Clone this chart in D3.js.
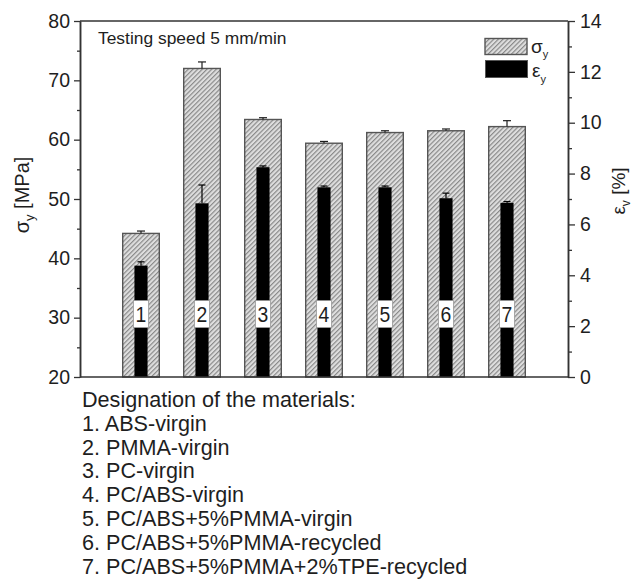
<!DOCTYPE html>
<html>
<head>
<meta charset="utf-8">
<script src="https://cdn.jsdelivr.net/npm/d3@7"></script>
<style>
  html, body { margin: 0; padding: 0; background: #fff; }
  svg { display: block; font-family: "Liberation Sans", Arial, sans-serif; }
</style>
</head>
<body>
<svg id="chart" width="633" height="582"></svg>
<script>
// ---- data ----
const categories = [1, 2, 3, 4, 5, 6, 7];
const sigmaY = [44.2, 72.0, 63.4, 59.4, 61.2, 61.5, 62.2];        // MPa (left axis)
const sigmaErr = [0.4, 1.1, 0.3, 0.3, 0.3, 0.3, 1.0];
const epsY = [4.38, 6.83, 8.25, 7.46, 7.46, 7.03, 6.85];            // % (right axis)
const epsErr = [0.15, 0.72, 0.05, 0.05, 0.05, 0.2, 0.05];
const leftTicks = [20, 30, 40, 50, 60, 70, 80];
const leftMinor = [25, 35, 45, 55, 65, 75];
const rightTicks = [0, 2, 4, 6, 8, 10, 12, 14];
const rightMinor = [1, 3, 5, 7, 9, 11, 13];
const heading = "Designation of the materials:";
const materials = [
  "1. ABS-virgin",
  "2. PMMA-virgin",
  "3. PC-virgin",
  "4. PC/ABS-virgin",
  "5. PC/ABS+5%PMMA-virgin",
  "6. PC/ABS+5%PMMA-recycled",
  "7. PC/ABS+5%PMMA+2%TPE-recycled"
];
const annotation = "Testing speed 5 mm/min";

// ---- layout ----
const L = 80, R = 568, T = 21, B = 377;
const ink = "#1e1e1e", axisCol = "#333";
const svg = d3.select("#chart");

const x = d3.scaleLinear().domain([0, 8]).range([L, R]);
const yL = d3.scaleLinear().domain([20, 80]).range([B, T]);
const yR = d3.scaleLinear().domain([0, 14]).range([B, T]);

// hatch pattern
const defs = svg.append("defs");
const pat = defs.append("pattern")
  .attr("id", "hatch").attr("patternUnits", "userSpaceOnUse")
  .attr("width", 3.3).attr("height", 3.3)
  .attr("patternTransform", "rotate(45)");
pat.append("rect").attr("width", 3.3).attr("height", 3.3).attr("fill", "#dedede");
pat.append("line").attr("x1", 0.6).attr("y1", 0).attr("x2", 0.6).attr("y2", 3.3)
  .attr("stroke", "#848484").attr("stroke-width", 1.1);

const bw = x(0.6) - x(0);
const bw2 = x(0.215) - x(0);

// hatched bars (sigma)
svg.append("g").selectAll("rect").data(categories).join("rect")
  .attr("x", (d) => x(d) - bw / 2)
  .attr("y", (d, i) => yL(sigmaY[i]))
  .attr("width", bw)
  .attr("height", (d, i) => B - yL(sigmaY[i]))
  .attr("fill", "url(#hatch)")
  .attr("stroke", "#555").attr("stroke-width", 1.4);

// sigma error bars
const eg1 = svg.append("g").attr("stroke", ink).attr("stroke-width", 1.2);
categories.forEach((d, i) => {
  const cx = x(d);
  eg1.append("line").attr("x1", cx).attr("x2", cx)
    .attr("y1", yL(sigmaY[i])).attr("y2", yL(sigmaY[i] + sigmaErr[i]));
  eg1.append("line").attr("x1", cx - 4).attr("x2", cx + 4)
    .attr("y1", yL(sigmaY[i] + sigmaErr[i])).attr("y2", yL(sigmaY[i] + sigmaErr[i]));
});

// black bars (epsilon)
svg.append("g").selectAll("rect").data(categories).join("rect")
  .attr("x", (d) => x(d) - bw2 / 2)
  .attr("y", (d, i) => yR(epsY[i]))
  .attr("width", bw2)
  .attr("height", (d, i) => B - yR(epsY[i]))
  .attr("fill", "#000");

const eg2 = svg.append("g").attr("stroke", "#000").attr("stroke-width", 1.2);
categories.forEach((d, i) => {
  const cx = x(d);
  eg2.append("line").attr("x1", cx).attr("x2", cx)
    .attr("y1", yR(epsY[i])).attr("y2", yR(epsY[i] + epsErr[i]));
  eg2.append("line").attr("x1", cx - 3.5).attr("x2", cx + 3.5)
    .attr("y1", yR(epsY[i] + epsErr[i])).attr("y2", yR(epsY[i] + epsErr[i]));
});

// number labels in white boxes
const labelVal = 30.6;
const lg = svg.append("g");
categories.forEach((d) => {
  const cx = x(d), cy = yL(labelVal);
  lg.append("rect").attr("x", cx - 7.5).attr("y", cy - 13.5).attr("width", 15).attr("height", 27)
    .attr("fill", "#fff").attr("stroke", "#999").attr("stroke-width", 0.8);
  lg.append("text").attr("x", cx).attr("y", cy + 8)
    .attr("text-anchor", "middle").attr("font-size", 22).attr("fill", ink)
    .attr("transform", `translate(${cx},${cy}) scale(0.88,1) translate(${-cx},${-cy})`)
    .text(d);
});

// frame top line and bottom line
svg.append("line").attr("x1", L).attr("x2", R).attr("y1", T).attr("y2", T)
  .attr("stroke", axisCol).attr("stroke-width", 1.5);
svg.append("line").attr("x1", L).attr("x2", R).attr("y1", B).attr("y2", B)
  .attr("stroke", axisCol).attr("stroke-width", 1.5);

// left axis
const gL = svg.append("g").attr("transform", `translate(${L},0)`)
  .call(d3.axisLeft(yL).tickValues(leftTicks).tickSize(6).tickSizeOuter(0).tickPadding(4));
const gLm = svg.append("g").attr("transform", `translate(${L},0)`)
  .call(d3.axisLeft(yL).tickValues(leftMinor).tickSize(3).tickSizeOuter(0).tickFormat(""));
// right axis
const gR = svg.append("g").attr("transform", `translate(${R},0)`)
  .call(d3.axisRight(yR).tickValues(rightTicks).tickSize(7).tickSizeOuter(0).tickPadding(5));
const gRm = svg.append("g").attr("transform", `translate(${R},0)`)
  .call(d3.axisRight(yR).tickValues(rightMinor).tickSize(4).tickSizeOuter(0).tickFormat(""));

[gL, gLm, gR, gRm].forEach((g) => {
  g.selectAll("path.domain").attr("stroke", axisCol).attr("stroke-width", 1.5);
  g.selectAll(".tick line").attr("stroke", axisCol).attr("stroke-width", 1.3);
  g.selectAll(".tick text").attr("fill", ink).attr("font-size", 19.5)
    .attr("font-family", "Liberation Sans, Arial, sans-serif");
});

// axis titles
const lt = svg.append("text").attr("transform", "translate(29,195) rotate(-90)")
  .attr("text-anchor", "middle").attr("font-size", 20).attr("fill", ink);
lt.append("tspan").text("σ");
lt.append("tspan").attr("font-size", 13).attr("dy", 5).text("y");
lt.append("tspan").attr("dy", -5).text(" [MPa]");

const rt = svg.append("text").attr("transform", "translate(625,191) rotate(-90)")
  .attr("text-anchor", "middle").attr("font-size", 19).attr("fill", ink);
rt.append("tspan").text("ε");
rt.append("tspan").attr("font-size", 12).attr("dy", 5).text("v");
rt.append("tspan").attr("dy", -5).text(" [%]");

// annotation
svg.append("text").attr("x", 98).attr("y", 43.5).attr("font-size", 17.4)
  .attr("fill", ink).text(annotation);

// legend
svg.append("rect").attr("x", 485).attr("y", 38.5).attr("width", 42).attr("height", 16)
  .attr("fill", "url(#hatch)").attr("stroke", "#555").attr("stroke-width", 1.4);
svg.append("rect").attr("x", 485.5).attr("y", 60.5).attr("width", 42).attr("height", 17)
  .attr("fill", "#000").attr("stroke", "#555").attr("stroke-width", 1);
const l1 = svg.append("text").attr("x", 531).attr("y", 53).attr("font-size", 19).attr("fill", ink);
l1.append("tspan").text("σ");
l1.append("tspan").attr("font-size", 11).attr("dy", 5).text("y");
const l2 = svg.append("text").attr("x", 532).attr("y", 77).attr("font-size", 19).attr("fill", ink);
l2.append("tspan").text("ε");
l2.append("tspan").attr("font-size", 11).attr("dy", 6).text("y");

// designation text
const dt = svg.append("g").attr("fill", ink).attr("font-size", 21.6);
dt.append("text").attr("x", 82).attr("y", 407).text(heading);
dt.selectAll("text.m").data(materials).join("text").attr("class", "m")
  .attr("x", 82).attr("y", (d, i) => 407 + (i + 1) * 23.8).text((d) => d);
</script>
</body>
</html>
